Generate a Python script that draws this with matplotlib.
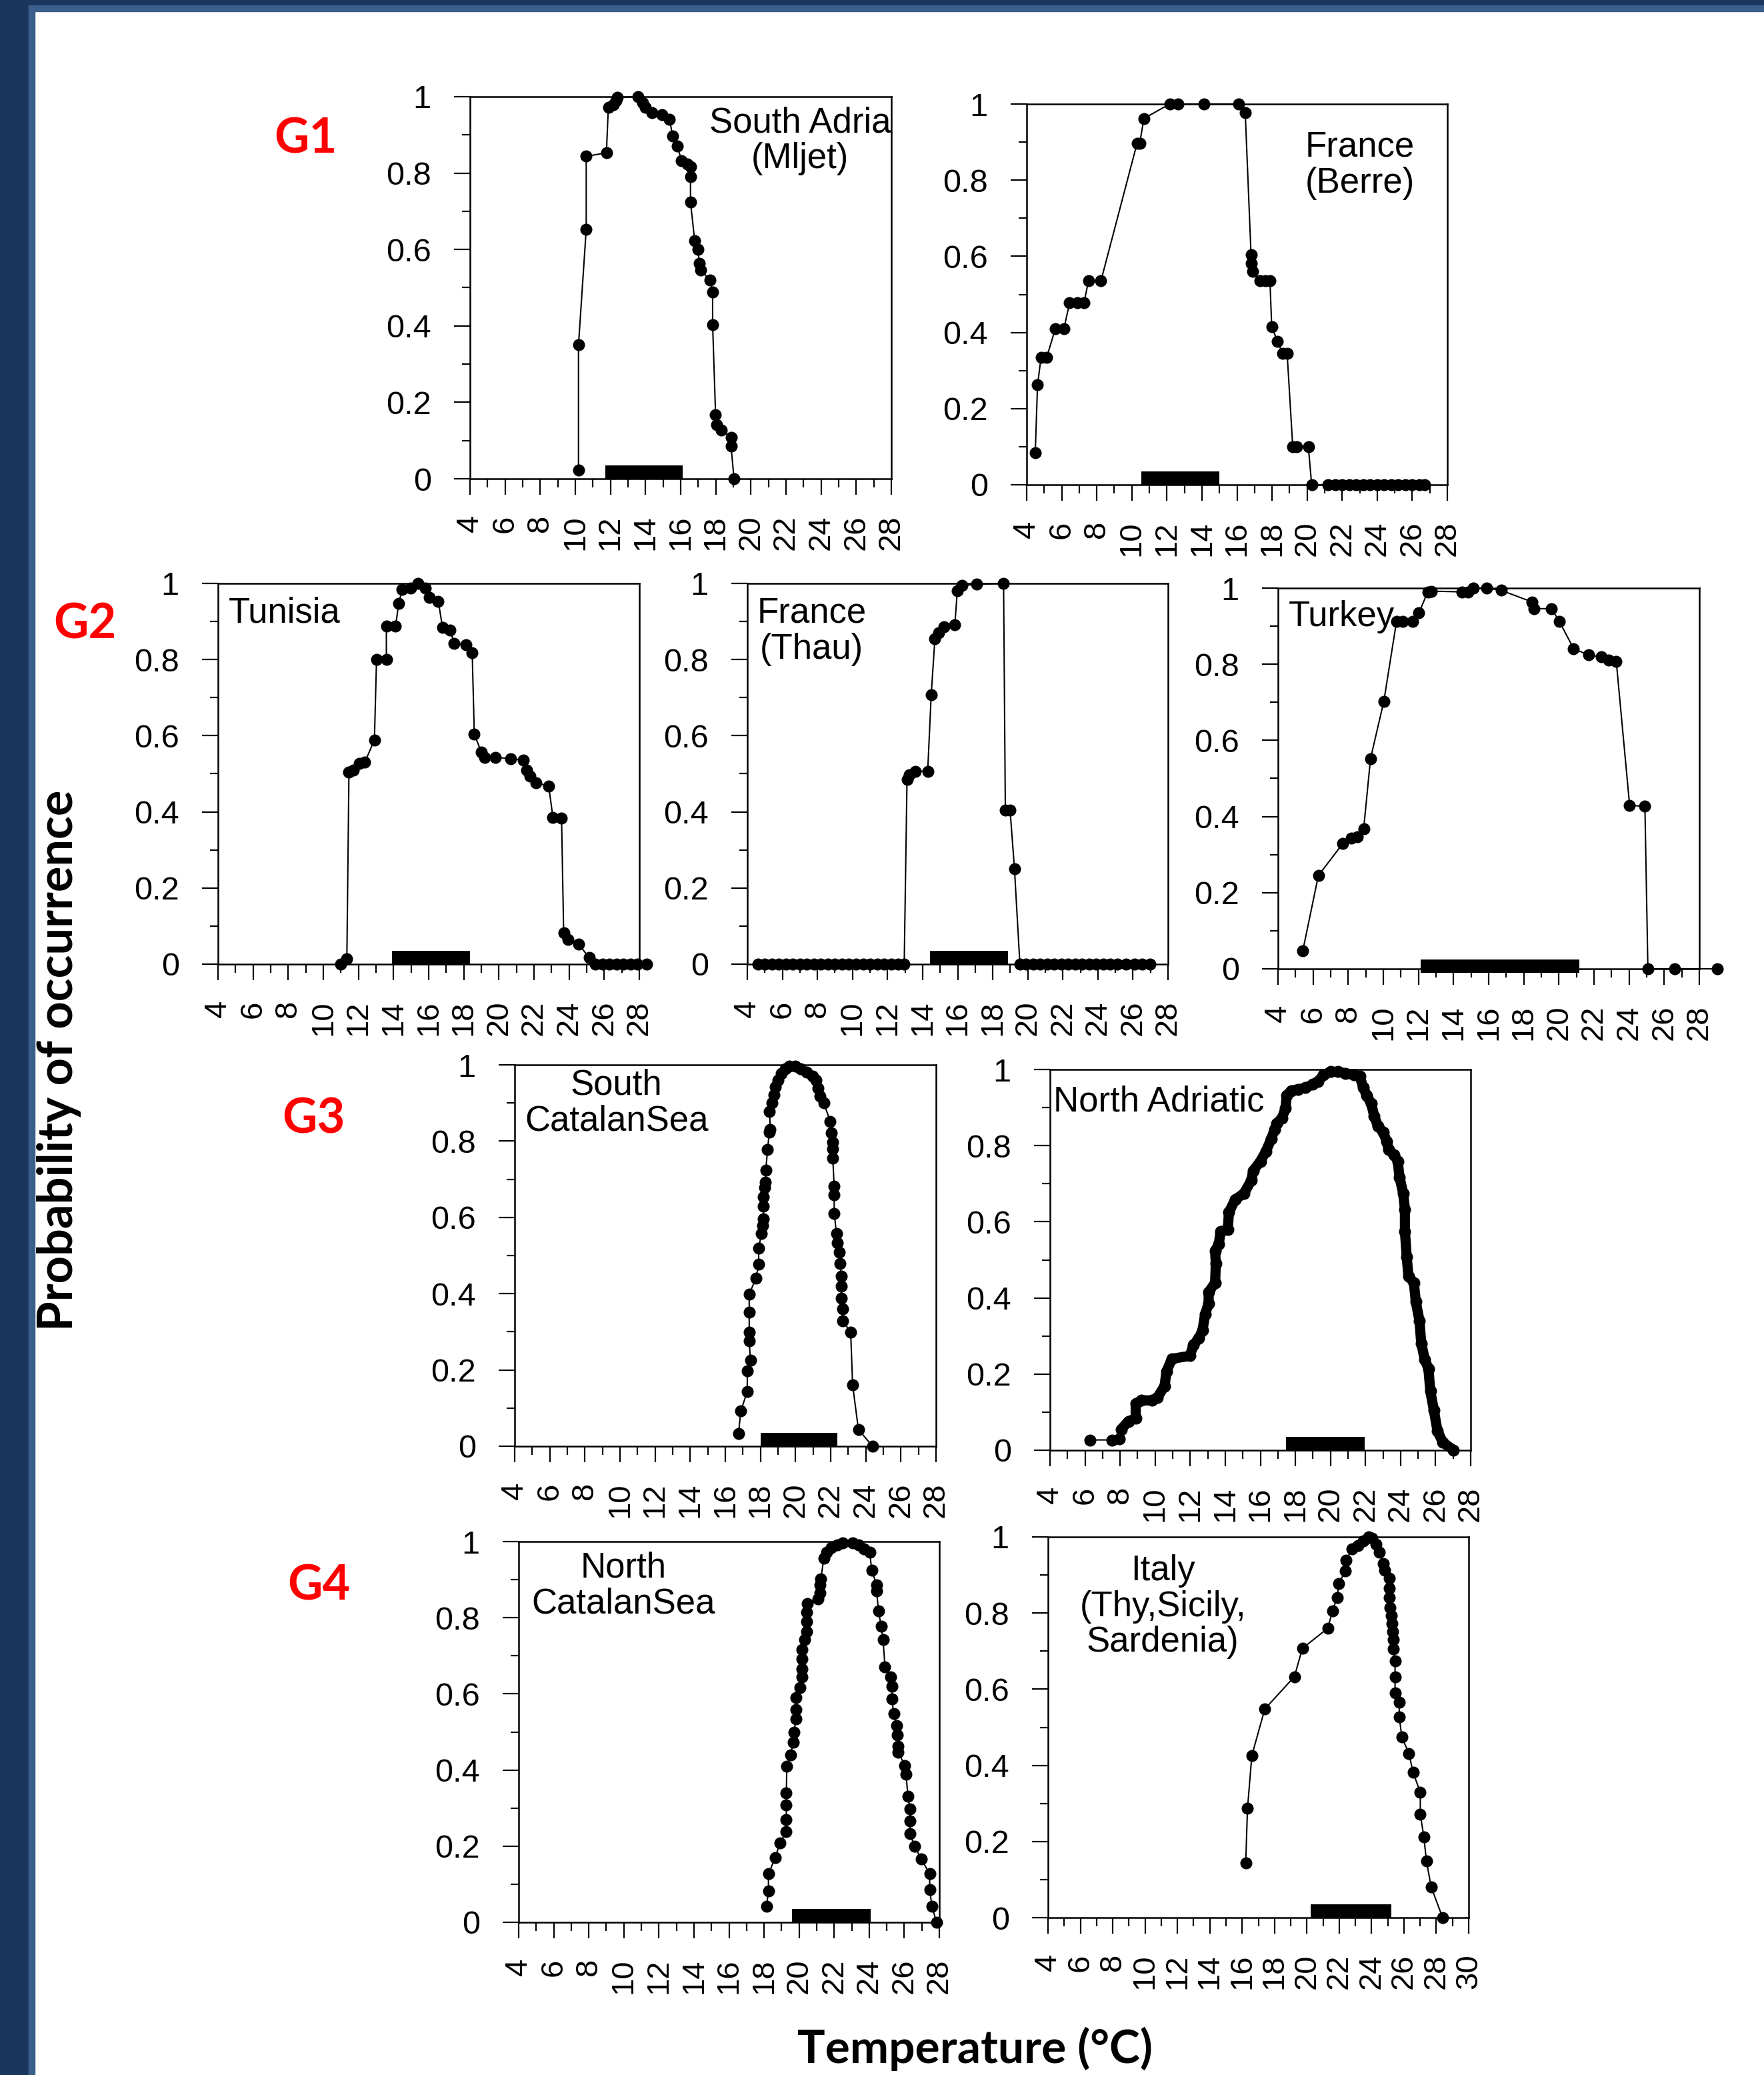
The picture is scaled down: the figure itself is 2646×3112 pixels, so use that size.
import matplotlib
matplotlib.use('Agg')
import matplotlib.pyplot as plt
from matplotlib.patches import Rectangle
from matplotlib.ticker import MultipleLocator

plt.rcParams['font.family'] = ['Liberation Sans', 'DejaVu Sans']

# ---- data (temperature in deg C, probability) ----
# G1 South Adria (Mljet)
t_adria = [10.18, 10.18, 10.62, 10.62, 11.77, 11.88, 12.15, 12.3, 12.38, 13.57, 13.84, 14.0,
           14.35, 14.93, 15.37, 15.54, 15.81, 16.05, 16.39, 16.56, 16.56, 16.56, 16.8, 16.97,
           17.07, 17.14, 17.68, 17.82, 17.82, 17.99, 18.05, 18.3, 18.87, 18.87, 19.04]
p_adria = [0.022, 0.35, 0.653, 0.844, 0.853, 0.972, 0.979, 0.99, 0.998, 1.0, 0.984, 0.972,
           0.958, 0.953, 0.941, 0.897, 0.870, 0.833, 0.823, 0.816, 0.79, 0.724, 0.623, 0.601,
           0.563, 0.546, 0.52, 0.489, 0.404, 0.167, 0.142, 0.128, 0.109, 0.085, 0.0]
bar_adria = (11.7, 16.1)

# G1 France (Berre)
t_berre = [4.49, 4.62, 4.82, 5.14, 5.63, 6.12, 6.45, 6.9, 7.27, 7.53, 8.24, 10.3, 10.45, 10.69,
           12.16, 12.65, 14.12, 16.08, 16.47, 16.8, 16.8, 16.9, 17.32, 17.6, 17.88, 17.98, 18.31,
           18.6, 18.86, 19.18, 19.4, 20.07, 20.26, 21.2, 21.6, 22.0, 22.4, 22.8, 23.2, 23.6,
           24.0, 24.4, 24.8, 25.2, 25.6, 26.0, 26.4, 26.7]
p_berre = [0.084, 0.262, 0.334, 0.334, 0.409, 0.409, 0.478, 0.478, 0.478, 0.536, 0.536, 0.897,
           0.897, 0.962, 1.0, 1.0, 1.0, 1.0, 0.978, 0.605, 0.582, 0.561, 0.536, 0.536, 0.536,
           0.415, 0.377, 0.345, 0.345, 0.10, 0.10, 0.10, 0.0, 0.0, 0.0, 0.0, 0.0, 0.0, 0.0,
           0.0, 0.0, 0.0, 0.0, 0.0, 0.0, 0.0, 0.0, 0.0]
bar_berre = (10.53, 15.0)

# G2 Tunisia
t_tunisia = [10.97, 11.34, 11.46, 11.7, 12.06, 12.36, 12.91, 13.03, 13.59, 13.59, 14.12, 14.29,
             14.49, 14.97, 15.41, 15.82, 16.02, 16.55, 16.79, 17.22, 17.46, 18.12, 18.48, 18.6,
             19.0, 19.2, 19.8, 20.66, 21.4, 21.58, 21.76, 22.12, 22.84, 23.08, 23.57, 23.69,
             23.93, 24.54, 25.14, 25.5, 25.9, 26.3, 26.7, 27.1, 27.5, 27.9, 28.4]
p_tunisia = [0.0, 0.014, 0.505, 0.51, 0.527, 0.53, 0.589, 0.80, 0.80, 0.888, 0.888, 0.947,
             0.984, 0.987, 1.0, 0.987, 0.964, 0.953, 0.884, 0.877, 0.843, 0.839, 0.818, 0.604,
             0.557, 0.543, 0.543, 0.54, 0.536, 0.51, 0.494, 0.477, 0.467, 0.385, 0.383, 0.082,
             0.065, 0.053, 0.017, 0.0, 0.0, 0.0, 0.0, 0.0, 0.0, 0.0, 0.0]
bar_tunisia = (13.93, 18.36)

# G2 France (Thau)
t_thau = [4.6, 5.0, 5.4, 5.8, 6.2, 6.6, 7.0, 7.4, 7.8, 8.2, 8.6, 9.0, 9.4, 9.8, 10.2, 10.6,
          11.0, 11.4, 11.8, 12.2, 12.6, 12.95, 13.11, 13.26, 13.57, 14.29, 14.49, 14.7, 14.91,
          15.22, 15.84, 15.98, 16.25, 17.07, 18.62, 18.72, 18.99, 19.24, 19.55, 19.9, 20.3,
          20.7, 21.1, 21.5, 21.9, 22.3, 22.7, 23.1, 23.5, 23.9, 24.3, 24.7, 25.1, 25.6, 26.1,
          26.5, 26.97]
p_thau = [0.0] * 22 + [0.485, 0.498, 0.507, 0.507, 0.707, 0.854, 0.87, 0.887, 0.892, 0.981,
                       0.994, 0.998, 1.0, 0.405, 0.405, 0.251, 0.0] + [0.0] * 18
bar_thau = (14.43, 18.87)

# G2 Turkey
t_turkey = [5.41, 6.3, 7.69, 8.19, 8.51, 8.88, 9.27, 10.03, 10.75, 11.12, 11.66, 12.03, 12.53,
            12.75, 14.48, 14.81, 15.13, 15.89, 16.72, 18.45, 18.6, 19.58, 20.02, 20.84, 21.71,
            22.4, 22.84, 23.27, 24.03, 24.9, 25.07, 26.59, 29.02]
p_turkey = [0.047, 0.245, 0.329, 0.344, 0.346, 0.368, 0.552, 0.703, 0.912, 0.912, 0.912, 0.935,
            0.99, 0.992, 0.99, 0.99, 1.0, 1.0, 0.994, 0.964, 0.946, 0.946, 0.913, 0.841, 0.824,
            0.82, 0.811, 0.807, 0.429, 0.427, 0.0, 0.0, 0.0]
bar_turkey = (12.14, 21.17)

# G3 South CatalanSea
t_scat = [16.75, 16.88, 17.25, 17.25, 17.43, 17.36, 17.36, 17.36, 17.36, 17.75, 17.9, 17.9,
          18.06, 18.12, 18.17, 18.17, 18.17, 18.23, 18.28, 18.3, 18.41, 18.5, 18.56, 18.52,
          18.67, 18.78, 18.84, 19.0, 19.2, 19.43, 19.65, 19.98, 20.3, 20.63, 20.96, 21.18,
          21.29, 21.4, 21.61, 21.98, 22.05, 22.12, 22.12, 22.12, 22.2, 22.2, 22.2, 22.33,
          22.38, 22.49, 22.55, 22.6, 22.6, 22.6, 22.7, 22.7, 23.14, 23.25, 23.58, 24.38]
p_scat = [0.033, 0.092, 0.144, 0.197, 0.225, 0.276, 0.299, 0.351, 0.399, 0.441, 0.477, 0.52,
          0.557, 0.579, 0.596, 0.629, 0.654, 0.679, 0.692, 0.723, 0.778, 0.824, 0.831, 0.878,
          0.90, 0.922, 0.943, 0.96, 0.977, 0.989, 0.997, 0.997, 0.989, 0.981, 0.971, 0.96,
          0.939, 0.918, 0.9, 0.851, 0.822, 0.797, 0.78, 0.755, 0.681, 0.659, 0.611, 0.558,
          0.533, 0.508, 0.479, 0.445, 0.42, 0.388, 0.361, 0.328, 0.299, 0.161, 0.044, 0.0]
bar_scat = (18.02, 22.38)

# G3 North Adriatic
t_nadr = [6.27, 7.55, 7.96, 8.06, 8.47, 8.89, 8.89, 9.2, 9.81, 10.12, 10.54, 10.64, 10.95,
          11.98, 12.19, 12.49, 12.7, 12.85, 13.05, 13.05, 13.42, 13.46, 13.42, 13.63, 13.73,
          14.14, 14.21, 14.56, 15.07, 15.49, 15.59, 16.0, 16.31, 16.62, 16.82, 16.93, 17.24,
          17.44, 17.5, 17.75, 18.16, 18.58, 18.99, 19.3, 19.61, 20.02, 20.43, 20.85, 21.36,
          21.67, 21.88, 22.08, 22.33, 22.5, 22.7, 23.01, 23.22, 23.32, 23.63, 23.84, 23.94,
          24.15, 24.25, 24.25, 24.35, 24.45, 24.76, 24.87, 25.08, 25.18, 25.38, 25.59, 25.7,
          25.9, 26.11, 26.41, 27.03]
p_nadr = [0.027, 0.027, 0.029, 0.055, 0.076, 0.084, 0.122, 0.131, 0.131, 0.138, 0.169, 0.206,
          0.24, 0.248, 0.277, 0.294, 0.315, 0.357, 0.386, 0.415, 0.44, 0.49, 0.524, 0.541,
          0.575, 0.579, 0.625, 0.658, 0.675, 0.709, 0.734, 0.759, 0.784, 0.818, 0.843, 0.858,
          0.873, 0.898, 0.931, 0.944, 0.948, 0.952, 0.961, 0.969, 0.986, 0.994, 0.994, 0.99,
          0.986, 0.982, 0.952, 0.931, 0.91, 0.877, 0.852, 0.835, 0.81, 0.789, 0.776, 0.759,
          0.717, 0.675, 0.633, 0.575, 0.508, 0.457, 0.44, 0.39, 0.34, 0.281, 0.239, 0.214,
          0.155, 0.105, 0.05, 0.021, 0.0]
bar_nadr = (17.48, 21.94)

# G4 North CatalanSea
t_ncat = [18.14, 18.25, 18.25, 18.64, 18.9, 19.27, 19.27, 19.27, 19.27, 19.3, 19.51, 19.67,
          19.71, 19.82, 19.82, 19.82, 20.06, 20.17, 20.17, 20.17, 20.17, 20.32, 20.43, 20.43,
          20.43, 20.47, 21.08, 21.19, 21.19, 21.24, 21.41, 21.59, 21.85, 22.17, 22.5, 23.05,
          23.38, 23.7, 24.03, 24.14, 24.42, 24.42, 24.53, 24.68, 24.79, 24.9, 25.23, 25.29,
          25.29, 25.4, 25.55, 25.6, 25.66, 25.66, 26.04, 26.1, 26.21, 26.32, 26.32, 26.32,
          26.6, 26.97, 27.45, 27.45, 27.58, 27.84]
p_ncat = [0.042, 0.083, 0.127, 0.17, 0.208, 0.239, 0.27, 0.308, 0.34, 0.41, 0.44, 0.473, 0.5,
          0.535, 0.558, 0.59, 0.616, 0.644, 0.666, 0.692, 0.717, 0.743, 0.764, 0.789, 0.815,
          0.838, 0.849, 0.865, 0.886, 0.902, 0.956, 0.972, 0.985, 0.991, 0.997, 0.997, 0.991,
          0.98, 0.972, 0.925, 0.887, 0.87, 0.818, 0.777, 0.743, 0.671, 0.645, 0.62, 0.586,
          0.548, 0.516, 0.492, 0.463, 0.446, 0.412, 0.388, 0.331, 0.297, 0.267, 0.233, 0.199,
          0.166, 0.127, 0.085, 0.042, 0.0]
bar_ncat = (19.59, 24.07)

# G4 Italy (Thy, Sicily, Sardenia)
t_italy = [16.22, 16.33, 16.6, 17.4, 19.23, 19.72, 21.29, 21.58, 21.87, 21.98, 22.36, 22.4,
           22.8, 23.14, 23.48, 23.81, 24.04, 24.26, 24.48, 24.71, 24.82, 25.09, 25.09, 25.09,
           25.15, 25.22, 25.27, 25.31, 25.33, 25.33, 25.45, 25.45, 25.45, 25.71, 25.71, 25.87,
           26.31, 26.56, 27.01, 27.01, 27.23, 27.39, 27.68, 28.39]
p_italy = [0.143, 0.287, 0.426, 0.548, 0.633, 0.707, 0.76, 0.805, 0.841, 0.877, 0.91, 0.938,
           0.968, 0.978, 0.989, 1.0, 0.997, 0.98, 0.959, 0.93, 0.913, 0.891, 0.866, 0.841,
           0.815, 0.794, 0.772, 0.751, 0.73, 0.705, 0.675, 0.633, 0.59, 0.565, 0.527, 0.474,
           0.431, 0.382, 0.329, 0.272, 0.212, 0.149, 0.081, 0.0]
bar_italy = (20.24, 25.22)

y_tick_labels = ['0', '0.2', '0.4', '0.6', '0.8', '1']

W, H = 2646, 3112
fig = plt.figure(figsize=(W / 100, H / 100), dpi=100, facecolor='white')

# slide border
navy = '#1b365d'
lightnavy = '#3a5f8a'
fig.patches.append(Rectangle((0, 0), 43 / W, 1, transform=fig.transFigure, color=navy, zorder=0))
fig.patches.append(Rectangle((43 / W, 0), 9 / W, 1 - 17 / H, transform=fig.transFigure,
                             color=lightnavy, zorder=0))
fig.patches.append(Rectangle((0, 1 - 8 / H), 1, 8 / H, transform=fig.transFigure, color=navy, zorder=0))
fig.patches.append(Rectangle((43 / W, 1 - 17 / H), 1, 9 / H, transform=fig.transFigure,
                             color=lightnavy, zorder=0))


def panel(box, t, p, bar, label, lx, ly, ha, xmax=28, bar_bottom=0.0, thick_from=None):
    l, r, tp, b = box
    ax = fig.add_axes([l / W, 1 - b / H, (r - l) / W, (b - tp) / H])
    ax.bar(bar[0], 0.035, width=bar[1] - bar[0], bottom=bar_bottom, align='edge',
           color='black', zorder=2, clip_on=False)
    if thick_from is None:
        ax.plot(t, p, '-', color='black', lw=1.5, zorder=3, clip_on=False)
    else:
        ax.plot(t[:thick_from + 1], p[:thick_from + 1], '-', color='black', lw=1.5,
                zorder=3, clip_on=False)
        ax.plot(t[thick_from:], p[thick_from:], '-', color='black', lw=11,
                solid_capstyle='round', solid_joinstyle='round', zorder=3, clip_on=False)
    ax.plot(t, p, 'o', color='black', ms=13, mew=0, zorder=4, clip_on=False)
    ax.set_xlim(4, xmax)
    ax.set_ylim(0, 1)
    xt = list(range(4, xmax + 1, 2))
    ax.set_xticks(xt)
    ax.set_xticklabels([str(v) for v in xt], rotation=90, fontsize=34)
    ax.xaxis.set_minor_locator(MultipleLocator(1))
    ax.set_yticks([0, 0.2, 0.4, 0.6, 0.8, 1.0])
    ax.set_yticklabels(y_tick_labels, fontsize=35)
    ax.yaxis.set_minor_locator(MultipleLocator(0.1))
    ax.tick_params(which='both', direction='out', width=1.6, top=False, right=False)
    ax.tick_params(which='major', length=17)
    ax.tick_params(which='minor', length=9)
    ax.tick_params(axis='x', which='major', pad=22)
    ax.tick_params(axis='y', which='major', pad=25)
    for s in ax.spines.values():
        s.set_linewidth(1.8)
    ax.text(lx, ly, label, ha=ha, va='top', fontsize=38, linespacing=1.1,
            multialignment='center', zorder=5)
    return ax


panel((705, 1337, 145, 718), t_adria, p_adria, bar_adria, 'South Adria\n(Mljet)', 22.8, 0.975, 'center')
panel((1540, 2171, 156, 727), t_berre, p_berre, bar_berre, 'France\n(Berre)', 23.0, 0.93, 'center')
panel((327, 959, 875, 1446), t_tunisia, p_tunisia, bar_tunisia, 'Tunisia', 4.6, 0.965, 'left')
panel((1121, 1752, 875, 1446), t_thau, p_thau, bar_thau, 'France\n(Thau)', 4.55, 0.965, 'left')
panel((1917, 2549, 882, 1453), t_turkey, p_turkey, bar_turkey, 'Turkey', 4.6, 0.968, 'left',
      bar_bottom=-0.011)
panel((772, 1404, 1597, 2169), t_scat, p_scat, bar_scat, 'South\nCatalanSea', 9.8, 0.99, 'center')
panel((1575, 2206, 1604, 2175), t_nadr, p_nadr, bar_nadr, 'North Adriatic', 4.2, 0.958, 'left',
      thick_from=3)
panel((778, 1409, 2312, 2883), t_ncat, p_ncat, bar_ncat, 'North\nCatalanSea', 9.97, 0.975, 'center')
panel((1572, 2203, 2305, 2876), t_italy, p_italy, bar_italy, 'Italy\n(Thy,Sicily,\nSardenia)',
      11.1, 0.955, 'center', xmax=30)

# group labels
bold_font = ['Lato', 'DejaVu Sans']
for name, x, y in [('G1', 411, 230), ('G2', 80, 957), ('G3', 423, 1699), ('G4', 431, 2400)]:
    fig.text(x / W, 1 - y / H, name, color='#ff0000', fontsize=52, fontweight='bold',
             family=bold_font, ha='left', va='baseline')

fig.text(89 / W, 1 - 1590 / H, 'Probability of occurrence', rotation=90, ha='center',
         va='center', fontsize=52, fontweight='bold', family=bold_font)
fig.text(1463 / W, 1 - 3073 / H, 'Temperature (°C)', ha='center', va='center',
         fontsize=50, fontweight='bold', family=bold_font)

fig.savefig('out.png', dpi=100, facecolor='white')
